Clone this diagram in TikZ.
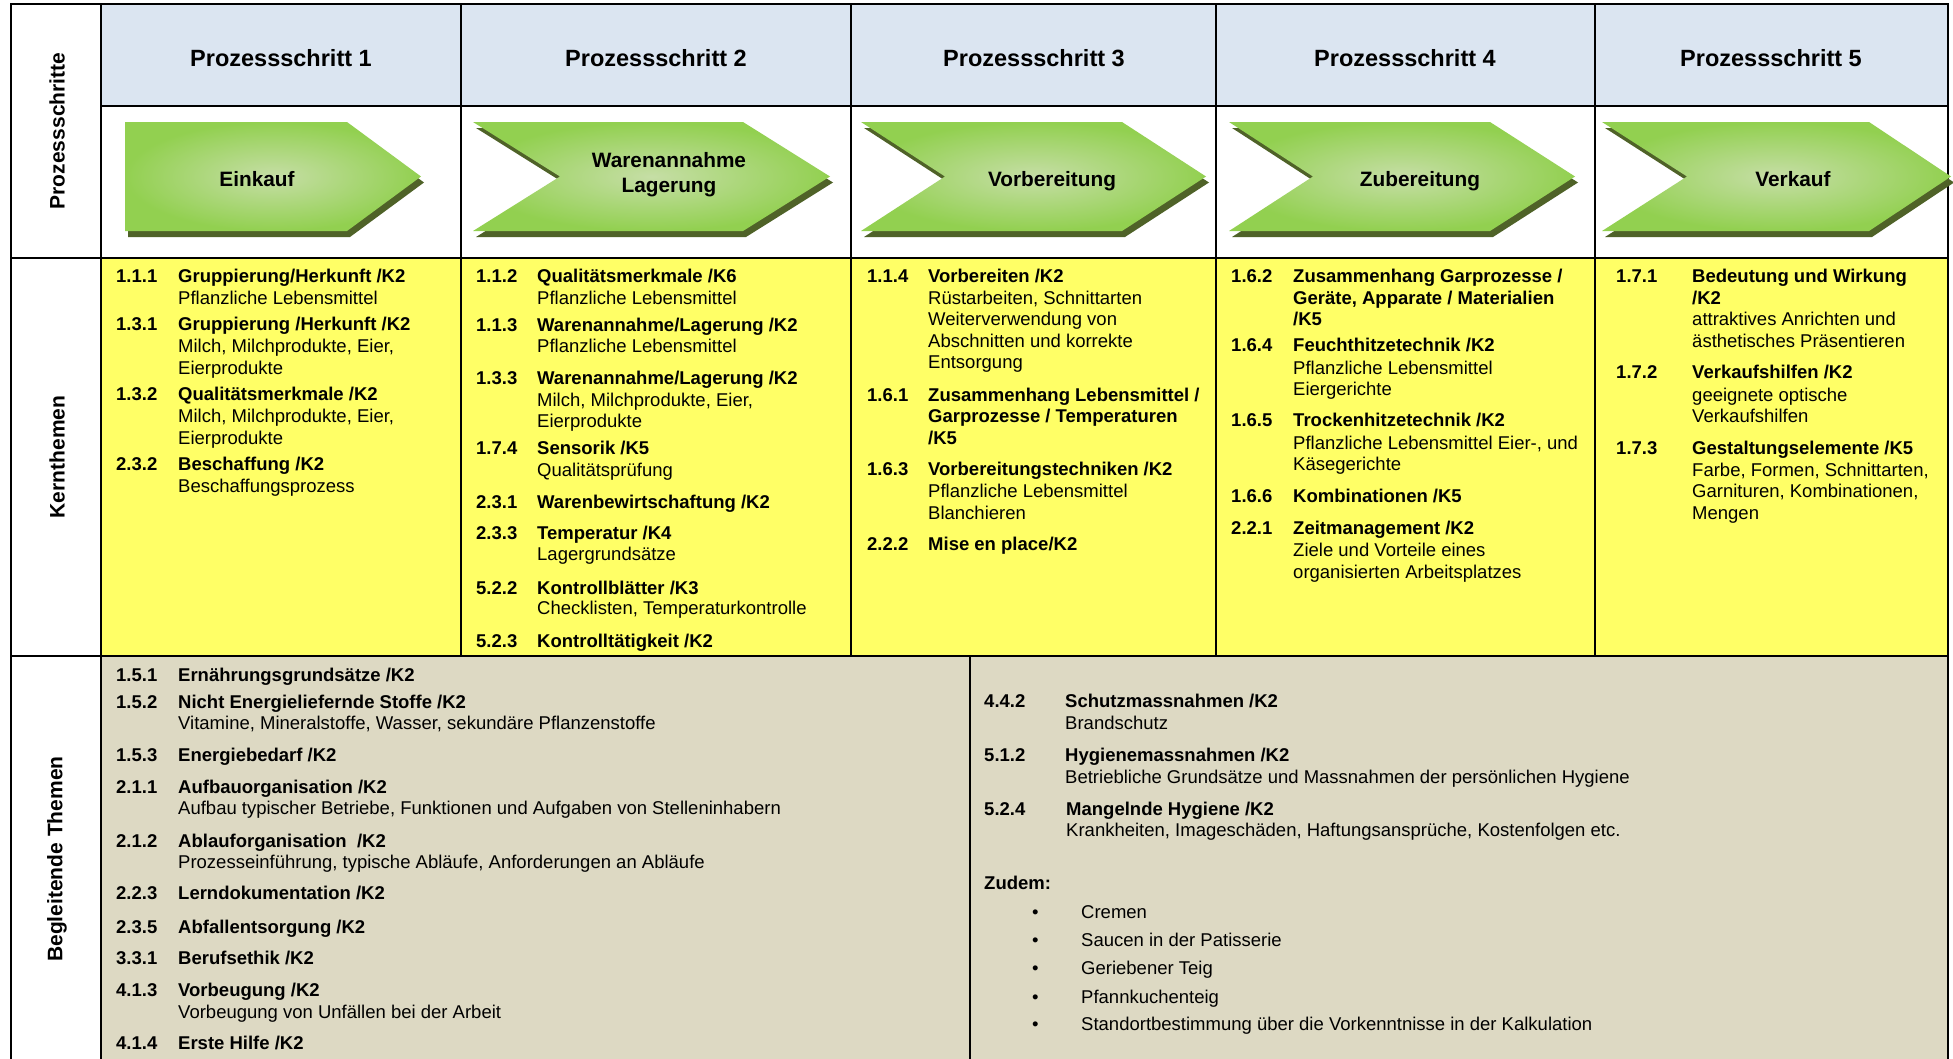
\documentclass[tikz,border=0pt]{standalone}
\usepackage{fontspec}
\setmainfont{Liberation Sans}
\definecolor{hdrblue}{HTML}{DBE5F1}
\definecolor{kernyellow}{HTML}{FFFF66}
\definecolor{begbeige}{HTML}{DDD9C3}
\definecolor{arrowgreen}{HTML}{92D050}
\definecolor{arrowlight}{HTML}{C6DEA6}
\definecolor{shadowgreen}{HTML}{4F6228}
\newcounter{tlc}
\newcommand\numtitle[5]{\stepcounter{tlc}%
  \node[bt] (n\arabic{tlc}) at (#1,#3) {#4};%
  \node[bt] (b\arabic{tlc}) at (#2,#3) {#5};}
\newcommand\plainl[3]{\stepcounter{tlc}\node[nt] (p\arabic{tlc}) at (#1,#2) {#3};}
\newcommand\boldl[3]{\stepcounter{tlc}\node[bt] (q\arabic{tlc}) at (#1,#2) {#3};}
\newcommand\chevron[5]{%
  \fill[shadowgreen, shift={(3,6)}] (#1,122) -- (#3,122) -- (#4,176.5) -- (#3,231) -- (#1,231) -- (#2,176.5) -- cycle;
  \shade[shading=radial, inner color=arrowlight, outer color=arrowgreen] (#1,122) -- (#3,122) -- (#4,176.5) -- (#3,231) -- (#1,231) -- (#2,176.5) -- cycle;}
\begin{document}
\begin{tikzpicture}[x=1pt,y=-1pt,
  grid/.style={line width=2.2pt, black, line cap=rect},
  nt/.style={anchor=base west, inner sep=0pt, font=\fontsize{18.5}{22}\selectfont},
  bt/.style={anchor=base west, inner sep=0pt, font=\fontsize{18.5}{22}\selectfont\bfseries},
  hdr/.style={anchor=base, inner sep=0pt, font=\fontsize{23.5}{28}\selectfont\bfseries},
  albl/.style={anchor=base, inner sep=0pt, font=\fontsize{20.8}{25}\selectfont\bfseries},
  side/.style={anchor=center, inner sep=0pt, rotate=90, font=\fontsize{21}{25}\selectfont\bfseries}]
\useasboundingbox (0,0) rectangle (1953,1058);
\clip (0,0) rectangle (1953,1058);
\fill[white] (0,0) rectangle (1953,1058);
% backgrounds
\fill[hdrblue] (101,4) rectangle (1948,106);
\fill[kernyellow] (101,258) rectangle (1948,656);
\fill[begbeige] (101,656) rectangle (1948,1070);
% grid
\draw[grid] (11,4) -- (1948,4);
\draw[grid] (101,106) -- (1948,106);
\draw[grid] (11,258) -- (1948,258);
\draw[grid] (11,656) -- (1948,656);
\draw[grid] (11,4) -- (11,1070);
\draw[grid] (101,4) -- (101,1070);
\foreach \x in {461,851,1216,1595} \draw[grid] (\x,4) -- (\x,656);
\draw[grid] (970,656) -- (970,1070);
\draw[grid] (1948,4) -- (1948,1070);
% side labels
\node[side] (s1) at (57,131) {Prozessschritte};
\node[side] (s2) at (57,457) {Kernthemen};
\node[side] (s3) at (57,859) {Begleitende Themen};
% headers
\node[hdr] (h1) at (281,66) {Prozessschritt 1};
\node[hdr] (h2) at (656,66) {Prozessschritt 2};
\node[hdr] (h3) at (1034,66) {Prozessschritt 3};
\node[hdr] (h4) at (1405,66) {Prozessschritt 4};
\node[hdr] (h5) at (1771,66) {Prozessschritt 5};
% arrows
\chevron{125}{125}{347}{421}{}
\chevron{473}{560}{743}{830}{}
\chevron{861}{945}{1122}{1206}{}
\chevron{1229}{1313}{1490}{1575}{}
\chevron{1602}{1687}{1869}{1951}{}
\node[albl] (a1) at (257,186) {Einkauf};
\node[albl] (a2a) at (669,167) {Warenannahme};
\node[albl] (a2b) at (669,192) {Lagerung};
\node[albl] (a3) at (1052,186) {Vorbereitung};
\node[albl] (a4) at (1420,186) {Zubereitung};
\node[albl] (a5) at (1793,186) {Verkauf};
% Kernthemen column 1
\numtitle{116}{178}{282}{1.1.1}{Gruppierung/Herkunft /K2}
\plainl{178}{304}{Pflanzliche Lebensmittel}
\numtitle{116}{178}{330}{1.3.1}{Gruppierung /Herkunft /K2}
\plainl{178}{352}{Milch, Milchprodukte, Eier,}
\plainl{178}{374}{Eierprodukte}
\numtitle{116}{178}{400}{1.3.2}{Qualitätsmerkmale /K2}
\plainl{178}{422}{Milch, Milchprodukte, Eier,}
\plainl{178}{444}{Eierprodukte}
\numtitle{116}{178}{470}{2.3.2}{Beschaffung /K2}
\plainl{178}{492}{Beschaffungsprozess}
% column 2
\numtitle{476}{537}{282}{1.1.2}{Qualitätsmerkmale /K6}
\plainl{537}{304}{Pflanzliche Lebensmittel}
\numtitle{476}{537}{331}{1.1.3}{Warenannahme/Lagerung /K2}
\plainl{537}{352}{Pflanzliche Lebensmittel}
\numtitle{476}{537}{384}{1.3.3}{Warenannahme/Lagerung /K2}
\plainl{537}{406}{Milch, Milchprodukte, Eier,}
\plainl{537}{427}{Eierprodukte}
\numtitle{476}{537}{454}{1.7.4}{Sensorik /K5}
\plainl{537}{476}{Qualitätsprüfung}
\numtitle{476}{537}{508}{2.3.1}{Warenbewirtschaftung /K2}
\numtitle{476}{537}{539}{2.3.3}{Temperatur /K4}
\plainl{537}{560}{Lagergrundsätze}
\numtitle{476}{537}{594}{5.2.2}{Kontrollblätter /K3}
\plainl{537}{614}{Checklisten, Temperaturkontrolle}
\numtitle{476}{537}{647}{5.2.3}{Kontrolltätigkeit /K2}
% column 3
\numtitle{867}{928}{282}{1.1.4}{Vorbereiten /K2}
\plainl{928}{304}{Rüstarbeiten, Schnittarten}
\plainl{928}{325}{Weiterverwendung von}
\plainl{928}{347}{Abschnitten und korrekte}
\plainl{928}{368}{Entsorgung}
\numtitle{867}{928}{401}{1.6.1}{Zusammenhang Lebensmittel /}
\boldl{928}{422}{Garprozesse / Temperaturen}
\boldl{928}{444}{/K5}
\numtitle{867}{928}{475}{1.6.3}{Vorbereitungstechniken /K2}
\plainl{928}{497}{Pflanzliche Lebensmittel}
\plainl{928}{519}{Blanchieren}
\numtitle{867}{928}{550}{2.2.2}{Mise en place/K2}
% column 4
\numtitle{1231}{1293}{282}{1.6.2}{Zusammenhang Garprozesse /}
\boldl{1293}{304}{Geräte, Apparate / Materialien}
\boldl{1293}{325}{/K5}
\numtitle{1231}{1293}{351}{1.6.4}{Feuchthitzetechnik /K2}
\plainl{1293}{374}{Pflanzliche Lebensmittel}
\plainl{1293}{395}{Eiergerichte}
\numtitle{1231}{1293}{426}{1.6.5}{Trockenhitzetechnik /K2}
\plainl{1293}{449}{Pflanzliche Lebensmittel Eier-, und}
\plainl{1293}{470}{Käsegerichte}
\numtitle{1231}{1293}{502}{1.6.6}{Kombinationen /K5}
\numtitle{1231}{1293}{534}{2.2.1}{Zeitmanagement /K2}
\plainl{1293}{556}{Ziele und Vorteile eines}
\plainl{1293}{578}{organisierten Arbeitsplatzes}
% column 5
\numtitle{1616}{1692}{282}{1.7.1}{Bedeutung und Wirkung}
\boldl{1692}{304}{/K2}
\plainl{1692}{325}{attraktives Anrichten und}
\plainl{1692}{347}{ästhetisches Präsentieren}
\numtitle{1616}{1692}{378}{1.7.2}{Verkaufshilfen /K2}
\plainl{1692}{401}{geeignete optische}
\plainl{1692}{422}{Verkaufshilfen}
\numtitle{1616}{1692}{454}{1.7.3}{Gestaltungselemente /K5}
\plainl{1692}{476}{Farbe, Formen, Schnittarten,}
\plainl{1692}{497}{Garnituren, Kombinationen,}
\plainl{1692}{519}{Mengen}
% Begleitende Themen left
\numtitle{116}{178}{681}{1.5.1}{Ernährungsgrundsätze /K2}
\numtitle{116}{178}{708}{1.5.2}{Nicht Energieliefernde Stoffe /K2}
\plainl{178}{729}{Vitamine, Mineralstoffe, Wasser, sekundäre Pflanzenstoffe}
\numtitle{116}{178}{761}{1.5.3}{Energiebedarf /K2}
\numtitle{116}{178}{793}{2.1.1}{Aufbauorganisation /K2}
\plainl{178}{814}{Aufbau typischer Betriebe, Funktionen und Aufgaben von Stelleninhabern}
\numtitle{116}{178}{847}{2.1.2}{Ablauforganisation\ \ /K2}
\plainl{178}{868}{Prozesseinführung, typische Abläufe, Anforderungen an Abläufe}
\numtitle{116}{178}{899}{2.2.3}{Lerndokumentation /K2}
\numtitle{116}{178}{933}{2.3.5}{Abfallentsorgung /K2}
\numtitle{116}{178}{964}{3.3.1}{Berufsethik /K2}
\numtitle{116}{178}{996}{4.1.3}{Vorbeugung /K2}
\plainl{178}{1018}{Vorbeugung von Unfällen bei der Arbeit}
\numtitle{116}{178}{1049}{4.1.4}{Erste Hilfe /K2}
% Begleitende Themen right
\numtitle{984}{1065}{707}{4.4.2}{Schutzmassnahmen /K2}
\plainl{1065}{729}{Brandschutz}
\numtitle{984}{1065}{761}{5.1.2}{Hygienemassnahmen /K2}
\plainl{1065}{783}{Betriebliche Grundsätze und Massnahmen der persönlichen Hygiene}
\numtitle{984}{1066}{815}{5.2.4}{Mangelnde Hygiene /K2}
\plainl{1066}{836}{Krankheiten, Imageschäden, Haftungsansprüche, Kostenfolgen etc.}
\boldl{984}{889}{Zudem:}
\foreach \yy/\tt [count=\i] in {918/Cremen, 946/Saucen in der Patisserie, 974/Geriebener Teig, 1003/Pfannkuchenteig, 1030/Standortbestimmung über die Vorkenntnisse in der Kalkulation}{
  \node[nt] (bu\i) at (1032,\yy) {•};
  \node[nt] (bt\i) at (1081,\yy) {\tt};
}
\end{tikzpicture}
\end{document}
